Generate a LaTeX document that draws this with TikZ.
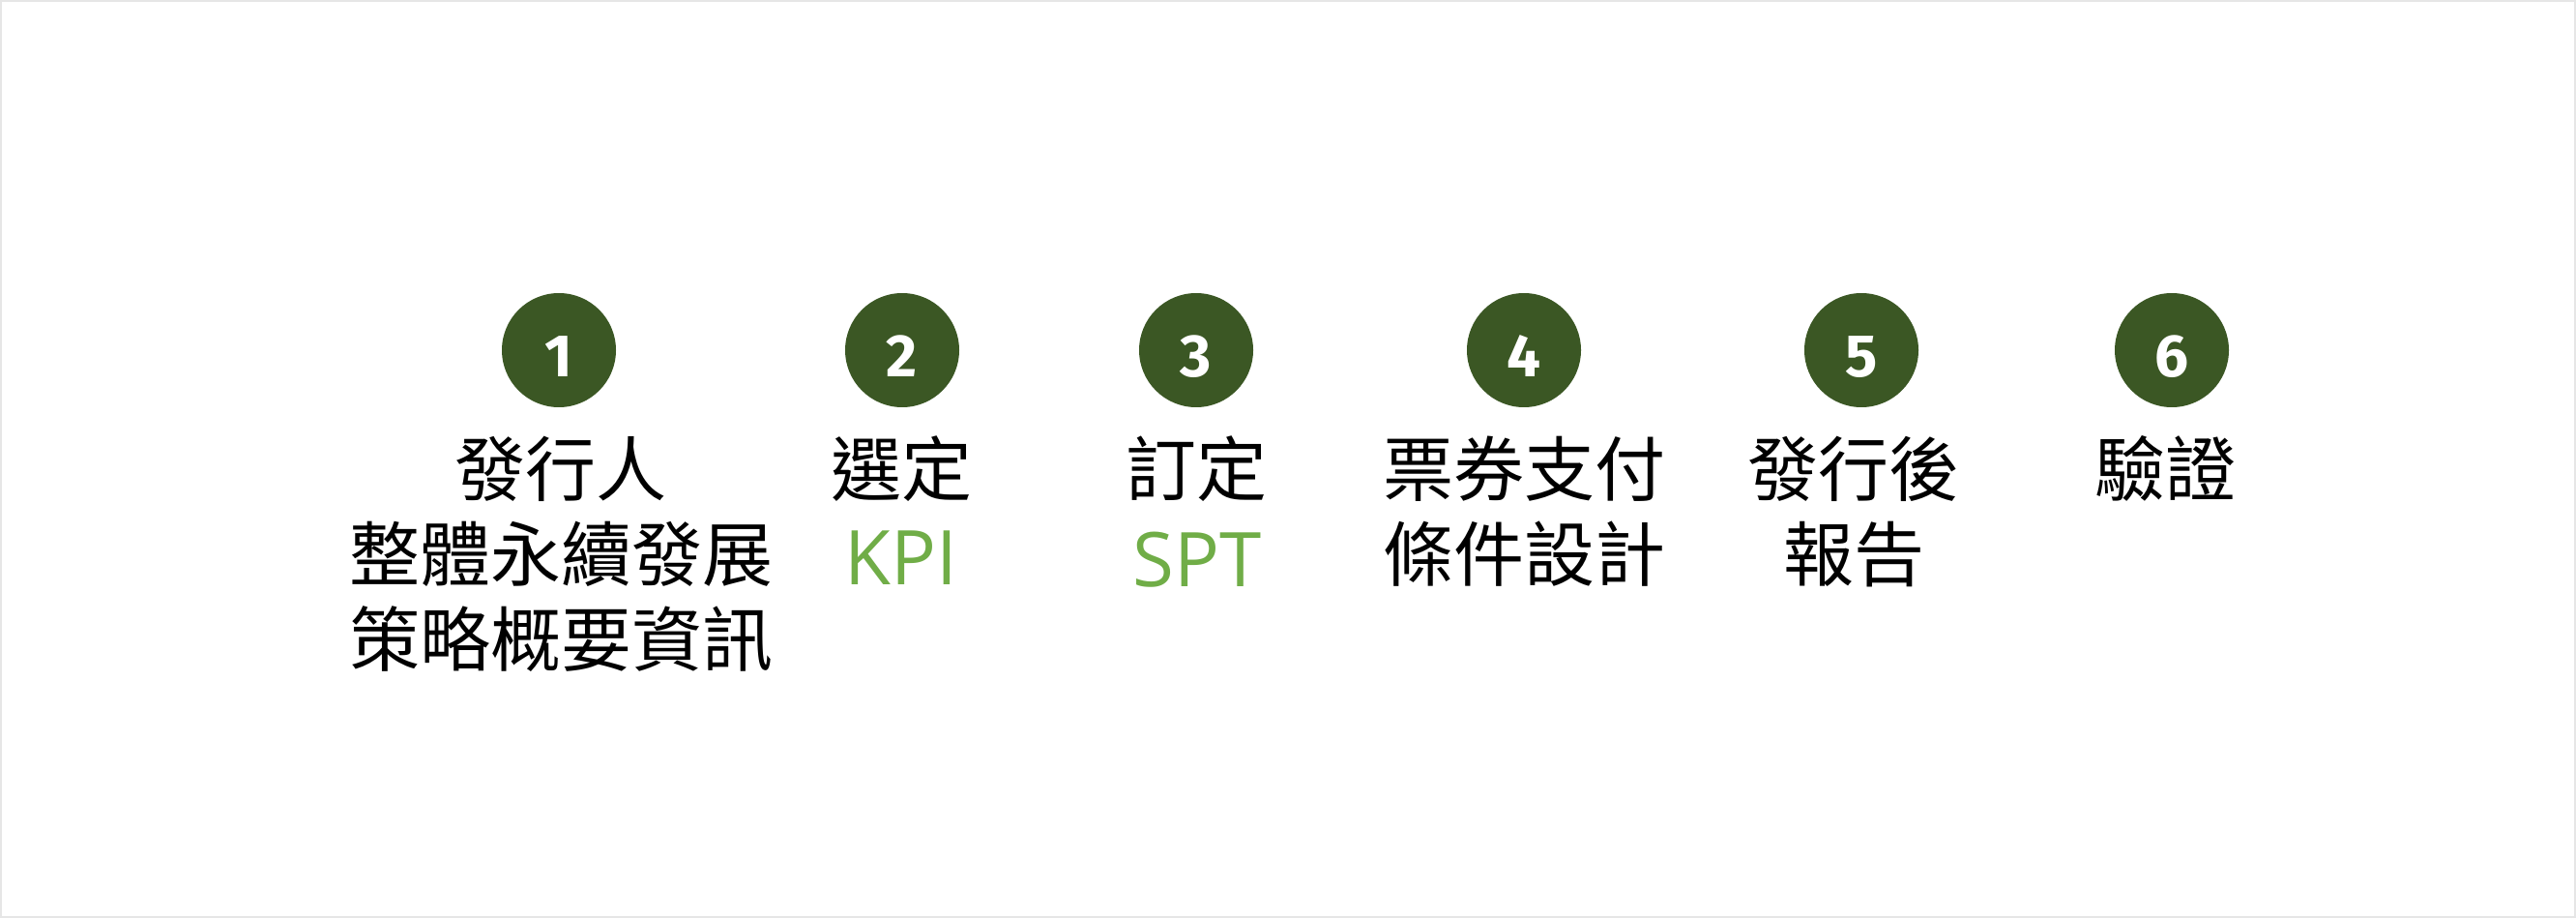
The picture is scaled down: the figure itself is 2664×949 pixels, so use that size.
\documentclass[tikz,border=0pt]{standalone}
\usepackage{fontspec}
\newfontfamily\cjk{Noto Sans CJK TC}
\newfontfamily\latinfont{Open Sans}
\newfontfamily\numfont{Fira Sans}
\definecolor{darkgreen}{HTML}{3B5724}
\definecolor{lightgreen}{HTML}{70AD47}
\definecolor{framegray}{HTML}{E6E6E6}
\begin{document}
\begin{tikzpicture}[x=1pt,y=-1pt,
  stepcircle/.style={circle,fill=darkgreen,minimum size=118pt,inner sep=0pt},
  stepnum/.style={anchor=base,inner sep=0pt,text=white,font=\numfont\bfseries\fontsize{62}{62}\selectfont},
  cjktext/.style={anchor=base,inner sep=0pt,text=black,font=\cjk\fontsize{73}{73}\selectfont},
  kpitext/.style={anchor=base,inner sep=0pt,text=lightgreen,font=\latinfont\fontsize{78}{78}\selectfont}]
\useasboundingbox (0,0) rectangle (2664,949);
\draw[framegray,line width=2pt] (1,1) rectangle (2663,948);
% circles
\node[stepcircle] (c1) at (578,362) {};
\node[stepcircle] (c2) at (933,362) {};
\node[stepcircle] (c3) at (1237,362) {};
\node[stepcircle] (c4) at (1576,362) {};
\node[stepcircle] (c5) at (1925,362) {};
\node[stepcircle] (c6) at (2246,362) {};
% numbers
\node[stepnum] (n1) at (578,390) {1};
\node[stepnum] (n2) at (933,390) {2};
\node[stepnum] (n3) at (1237,390) {3};
\node[stepnum] (n4) at (1576,390) {4};
\node[stepnum] (n5) at (1925,390) {5};
\node[stepnum] (n6) at (2246,390) {6};
% column 1
\node[cjktext] (t1a) at (580,512) {發行人};
\node[cjktext] (t1b) at (580,600) {整體永續發展};
\node[cjktext] (t1c) at (580,688) {策略概要資訊};
% column 2
\node[cjktext] (t2a) at (932,512) {選定};
\node[kpitext] (t2b) at (932,604) {KPI};
% column 3
\node[cjktext] (t3a) at (1237,512) {訂定};
\node[kpitext] (t3b) at (1238,606) {SPT};
% column 4
\node[cjktext] (t4a) at (1576,512) {票券支付};
\node[cjktext] (t4b) at (1576,600) {條件設計};
% column 5
\node[cjktext] (t5a) at (1917,512) {發行後};
\node[cjktext] (t5b) at (1917,600) {報告};
% column 6
\node[cjktext] (t6a) at (2239,512) {驗證};
\end{tikzpicture}
\end{document}
